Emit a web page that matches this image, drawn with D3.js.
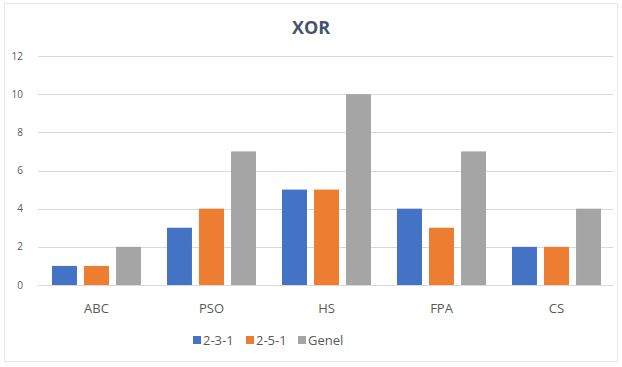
<!DOCTYPE html>
<html>
    <head>
        <meta charset="UTF-8">
        <script src="https://d3js.org/d3.v7.min.js"></script>
        <style>
            body { margin: 0; background: white; font-family: "Open Sans", Lato, sans-serif; }
            .grid line { stroke: #d9d9d9; stroke-width: 1px; }
            .y-label { fill: #595959; font-size: 10px; }
            .x-label { fill: #595959; font-size: 13px; }
            .legend-text { fill: #595959; font-size: 13px; }
            .title { fill: #44546a; font-size: 18px; font-weight: bold; }
        </style>
    </head>
    <body>
        <svg></svg>
        <script>
            const categories = ["ABC", "PSO", "HS", "FPA", "CS"];
            const seriesNames = ["2-3-1", "2-5-1", "Genel"];
            const s231 = [1, 3, 5, 4, 2];
            const s251 = [1, 4, 5, 3, 2];
            const genel = [2, 7, 10, 7, 4];
            const yTicks = [0, 2, 4, 6, 8, 10, 12];
            const colors = ["#4472c4", "#ed7d31", "#a5a5a5"];

            const width = 622, height = 367;
            const margin = { left: 39, right: 8, top: 56, bottom: 82 };

            const svg = d3.select("svg")
                .attr("width", width)
                .attr("height", height);

            // chart border
            svg.append("rect")
                .attr("x", 4.5).attr("y", 3.5)
                .attr("width", 613).attr("height", 358)
                .attr("fill", "white")
                .attr("stroke", "#e6e6e6");

            const x = d3.scaleBand()
                .domain(categories)
                .range([margin.left, width - margin.right]);

            const xs = d3.scaleBand()
                .domain(seriesNames)
                .range([13, x.bandwidth() - 13])
                .paddingInner(0.22);

            const y = d3.scaleLinear()
                .domain([0, 12])
                .range([height - margin.bottom, margin.top]);

            // gridlines
            const grid = svg.append("g").attr("class", "grid");
            grid.selectAll("line")
                .data(yTicks)
                .join("line")
                    .attr("x1", 38).attr("x2", 613)
                    .attr("y1", d => Math.round(y(d)) + 0.5)
                    .attr("y2", d => Math.round(y(d)) + 0.5);

            svg.append("g").selectAll("text")
                .data(yTicks)
                .join("text")
                    .attr("class", "y-label")
                    .attr("x", 23)
                    .attr("y", d => y(d))
                    .attr("dy", "0.35em")
                    .attr("text-anchor", "end")
                    .text(d => d);

            // bars
            const rows = categories.map((c, i) => ({ cat: c, vals: [s231[i], s251[i], genel[i]] }));
            const groups = svg.append("g").selectAll("g")
                .data(rows)
                .join("g")
                    .attr("transform", d => `translate(${x(d.cat)},0)`);

            groups.selectAll("rect")
                .data(d => d.vals.map((v, j) => ({ name: seriesNames[j], v: v, j: j })))
                .join("rect")
                    .attr("x", d => xs(d.name))
                    .attr("width", xs.bandwidth())
                    .attr("y", d => y(d.v))
                    .attr("height", d => y(0) - y(d.v))
                    .attr("fill", d => colors[d.j]);

            // x labels
            svg.append("g").selectAll("text")
                .data(categories)
                .join("text")
                    .attr("class", "x-label")
                    .attr("x", d => x(d) + x.bandwidth() / 2)
                    .attr("y", 308)
                    .attr("dy", "0.35em")
                    .attr("text-anchor", "middle")
                    .text(d => d);

            // title
            svg.append("text")
                .attr("class", "title")
                .attr("x", 311).attr("y", 28)
                .attr("dy", "0.35em")
                .attr("text-anchor", "middle")
                .text("XOR");

            // legend
            const legendX = [193, 246, 298];
            const legend = svg.append("g").selectAll("g")
                .data(seriesNames)
                .join("g")
                    .attr("transform", (d, i) => `translate(${legendX[i]},340)`);
            legend.append("rect")
                .attr("x", 0).attr("y", -4)
                .attr("width", 8).attr("height", 8)
                .attr("fill", (d, i) => colors[i]);
            legend.append("text")
                .attr("class", "legend-text")
                .attr("x", 10)
                .attr("dy", "0.35em")
                .text(d => d);
        </script>
    </body>
</html>
